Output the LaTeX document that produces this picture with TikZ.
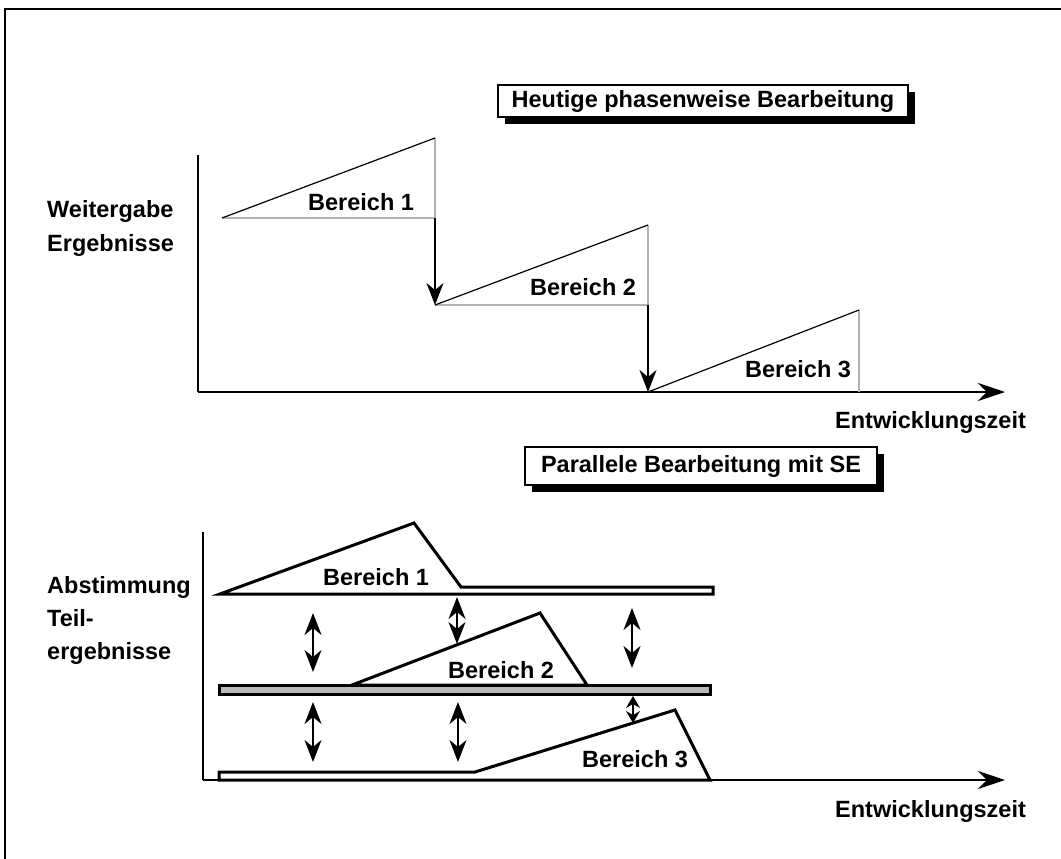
\documentclass[tikz,border=0pt]{standalone}
\usepackage{fontspec}
\setmainfont{Liberation Sans}
\usetikzlibrary{arrows.meta,shadows}
\begin{document}
\begin{tikzpicture}[x=1pt,y=-1pt,
  lbl/.style={font=\fontsize{23.5}{27}\selectfont\bfseries, inner sep=0pt, anchor=base west},
  titlebox/.style={draw, line width=1.5pt, fill=white, font=\fontsize{23.5}{27}\selectfont\bfseries, inner sep=0pt,
    drop shadow={shadow xshift=7pt, shadow yshift=-7pt, fill=black, opacity=1}},
  axis/.style={line width=2pt, -{Stealth[length=27pt,width=18pt,inset=9pt]}},
  yaxis/.style={line width=1.5pt},
  hyp/.style={line width=1.2pt},
  side/.style={line width=1.5pt, draw=gray!60},
  drop/.style={line width=1.5pt, -{Stealth[length=22pt,width=17pt,inset=7pt]}},
  sync/.style={line width=1.5pt, {Stealth[length=22pt,width=17pt,inset=7pt]}-{Stealth[length=22pt,width=17pt,inset=7pt]}},
  syncshort/.style={line width=1.5pt, {Stealth[length=12pt,width=14pt,inset=4pt]}-{Stealth[length=12pt,width=14pt,inset=4pt]}},
  bar/.style={line width=3pt, line join=miter, fill=white},
]
\useasboundingbox (0,0) rectangle (1061,859);
% frame
\coordinate (fbl) at (5,859);
\coordinate (ftl) at (5,9);
\coordinate (ftr) at (1061,9);
\draw[line width=2pt] (fbl) -- (ftl) -- (ftr);

% titles
\node[titlebox, minimum width=410pt, minimum height=32pt] (t1) at (703,101) {Heutige phasenweise Bearbeitung};
\node[titlebox, minimum width=352pt, minimum height=38pt] (t2) at (701,466) {Parallele Bearbeitung mit SE};

% ---------- top graph ----------
\coordinate (O1) at (198,392);
\coordinate (Y1) at (198,155);
\coordinate (X1) at (1005,392);
\draw[yaxis] (Y1) -- (O1);
\draw[axis] (O1) -- (X1);

\coordinate (A1) at (222,218);
\coordinate (B1) at (435,218);
\coordinate (C1) at (435,138);
\coordinate (A2) at (435,305);
\coordinate (B2) at (648,305);
\coordinate (C2) at (648,225);
\coordinate (A3) at (648,392);
\coordinate (B3) at (859,392);
\coordinate (C3) at (859,310);

\draw[side] (A1) -- (B1) -- (C1);
\draw[hyp] (A1) -- (C1);
\draw[side] (A2) -- (B2) -- (C2);
\draw[hyp] (A2) -- (C2);
\draw[side] (B3) -- (C3);
\draw[hyp] (A3) -- (C3);
\draw[drop] (B1) -- (A2);
\draw[drop] (B2) -- (A3);

\node[lbl] (b1) at (308,210) {Bereich 1};
\node[lbl] (b2) at (530,295) {Bereich 2};
\node[lbl] (b3) at (745,377) {Bereich 3};
\node[lbl] (w1) at (47,217) {Weitergabe};
\node[lbl] (w2) at (47,251) {Ergebnisse};
\node[lbl] (e1) at (835,428) {Entwicklungszeit};

% ---------- bottom graph ----------
\coordinate (O2) at (203,780);
\coordinate (Y2) at (203,532);
\coordinate (X2) at (1005,780);

% Bereich 1
\coordinate (p1a) at (220,594);
\coordinate (p1b) at (414,523);
\coordinate (p1c) at (461,587);
\coordinate (p1d) at (713,587);
\coordinate (p1e) at (713,594);
\draw[bar] (p1a) -- (p1b) -- (p1c) -- (p1d) -- (p1e) -- cycle;

% Bereich 2
\coordinate (p2a) at (352,685);
\coordinate (p2b) at (540,613);
\coordinate (p2c) at (587,685);
\coordinate (r2a) at (219,685);
\coordinate (r2b) at (710,694);
\draw[bar] (p2a) -- (p2b) -- (p2c) -- cycle;
\draw[line width=3pt, fill=gray!55] (r2a) rectangle (r2b);

% Bereich 3
\coordinate (p3a) at (219,780);
\coordinate (p3b) at (219,772);
\coordinate (p3c) at (475,772);
\coordinate (p3d) at (675,710);
\coordinate (p3e) at (710,780);
\draw[bar] (p3a) -- (p3b) -- (p3c) -- (p3d) -- (p3e) -- cycle;

\draw[yaxis] (Y2) -- (O2);
\draw[axis] (O2) -- (X2);

% synchronisation arrows
\coordinate (s1t) at (313,613); \coordinate (s1b) at (313,672);
\coordinate (s2t) at (457,597); \coordinate (s2b) at (457,644);
\coordinate (s3t) at (632,608); \coordinate (s3b) at (632,668);
\coordinate (s4t) at (313,702); \coordinate (s4b) at (313,762);
\coordinate (s5t) at (458,702); \coordinate (s5b) at (458,762);
\coordinate (s6t) at (633,696); \coordinate (s6b) at (633,723);
\draw[sync] (s1t) -- (s1b);
\draw[sync] (s2t) -- (s2b);
\draw[sync] (s3t) -- (s3b);
\draw[sync] (s4t) -- (s4b);
\draw[sync] (s5t) -- (s5b);
\draw[syncshort] (s6t) -- (s6b);

\node[lbl] (c1) at (323,585) {Bereich 1};
\node[lbl] (c2) at (448,678) {Bereich 2};
\node[lbl] (c3) at (582,767) {Bereich 3};
\node[lbl] (a1) at (47,593) {Abstimmung};
\node[lbl] (a2) at (47,626) {Teil-};
\node[lbl] (a3) at (47,659) {ergebnisse};
\node[lbl] (e2) at (835,817) {Entwicklungszeit};
\end{tikzpicture}
\end{document}
